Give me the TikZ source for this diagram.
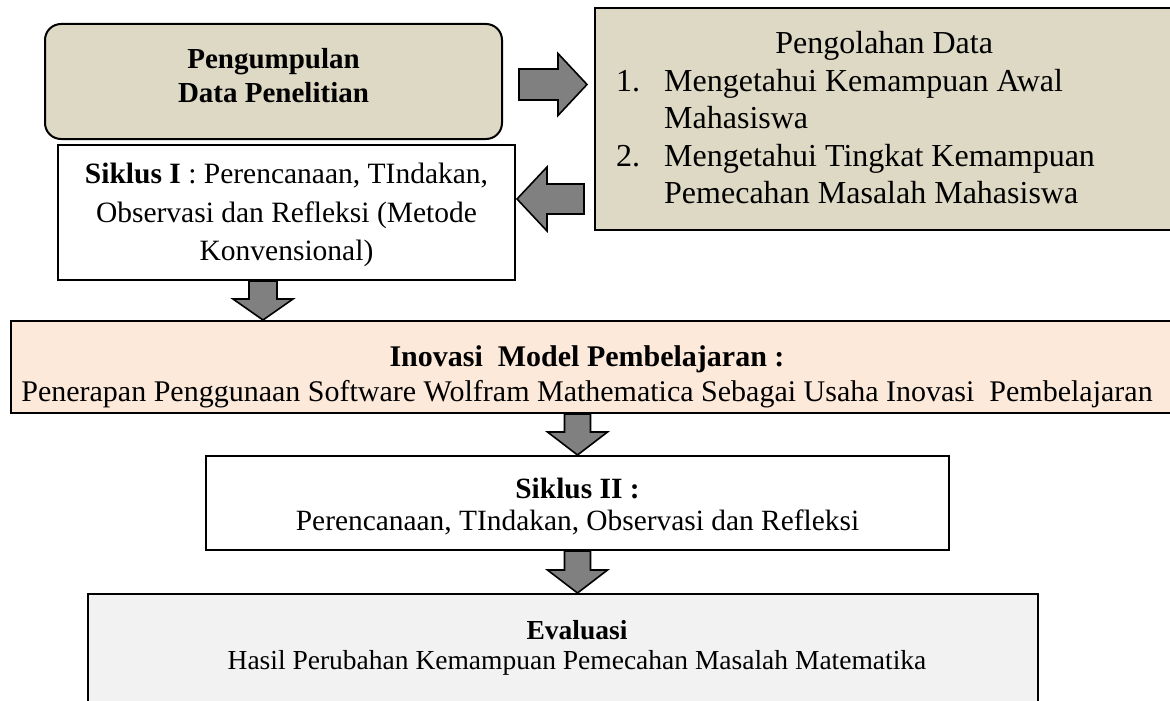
\documentclass[tikz,border=0pt]{standalone}
\usepackage{fontspec}
\setmainfont{Liberation Serif}
\usetikzlibrary{calc}
\definecolor{khaki}{HTML}{DDD9C4}
\definecolor{peach}{HTML}{FDE9D9}
\definecolor{lgray}{HTML}{F2F2F2}
\definecolor{agray}{HTML}{808080}
\tikzset{
  box/.style={draw=black, line width=2pt, anchor=north west, inner sep=0pt},
  txt/.style={inner sep=0pt, align=center},
  barrow/.style={draw=black, line width=1.6pt, fill=agray, line join=miter},
}
\newcommand\blockarrow[5]{%
  \path ($(#2)!#5!(#1)$) coordinate (bam);
  \draw[barrow] ($(#1)!#3!90:(#2)$) -- ($(bam)!#3!90:(#2)$) -- ($(bam)!#4!90:(#2)$) -- (#2)
    -- ($(bam)!#4!-90:(#2)$) -- ($(bam)!#3!-90:(#2)$) -- ($(#1)!#3!-90:(#2)$) -- cycle;}
\begin{document}
\begin{tikzpicture}[x=1pt,y=-1pt]
\useasboundingbox (0,0) rectangle (1170,701);
\clip (0,0) rectangle (1170,701);
\fill[white] (0,0) rectangle (1170,701);

% boxes
\node[box, fill=khaki, rounded corners=16pt, minimum width=457, minimum height=115] (collect) at (44,23) {};
\node[box, fill=khaki, minimum width=600, minimum height=222] (proc) at (594,7) {};
\node[box, fill=white, minimum width=457, minimum height=135] (s1) at (57,144) {};
\node[box, fill=peach, minimum width=1180, minimum height=92] (inov) at (10,320) {};
\node[box, fill=white, minimum width=743, minimum height=94] (s2) at (205,455) {};
\node[box, fill=lgray, minimum width=950, minimum height=140] (eval) at (87,593) {};

% texts
\node[txt, font=\fontsize{29}{34}\selectfont\bfseries] (collect-t) at ($(collect.center)+(0,-5.5)$)
  {Pengumpulan\\Data Penelitian};
\node[txt, anchor=west, font=\fontsize{32}{37.5}\selectfont] (proc-t) at (616,121.5)
  {\begin{tabular}{@{}p{48pt}@{}p{488pt}@{}}
   \multicolumn{2}{@{}c@{}}{Pengolahan Data}\\
   1. & Mengetahui Kemampuan Awal\\
      & Mahasiswa\\
   2. & Mengetahui Tingkat Kemampuan\\
      & Pemecahan Masalah Mahasiswa
   \end{tabular}};
\node[txt, font=\fontsize{29.5}{38.5}\selectfont] (s1-t) at ($(s1.center)+(0,2.5)$)
  {\textbf{Siklus I} : Perencanaan, TIndakan,\\ Observasi dan Refleksi (Metode\\ Konvensional)};
\node[txt, font=\fontsize{30}{35}\selectfont] (inov-t) at (587,376.5)
  {\textbf{Inovasi\ \ Model Pembelajaran :}\\
   Penerapan Penggunaan Software Wolfram Mathematica Sebagai Usaha Inovasi\ \ Pembelajaran};
\node[txt, font=\fontsize{29.4}{32}\selectfont] (s2-t) at ($(s2.center)+(0,4)$)
  {\textbf{Siklus II :}\\Perencanaan, TIndakan, Observasi dan Refleksi};
\node[txt, font=\fontsize{27.5}{30}\selectfont] (eval-t) at (577,648)
  {\textbf{Evaluasi}\\Hasil Perubahan Kemampuan Pemecahan Masalah Matematika};

% connectors
\coordinate (ras) at ($(collect.east)+(16,3)$);
\coordinate (rae) at ($(proc.west |- ras)+(-7,0)$);
\blockarrow{ras}{rae}{15.5pt}{31pt}{29pt}

\coordinate (lae) at ($(s1.east)+(1,-13.5)$);
\coordinate (las) at ($(proc.west |- lae)+(-10,0)$);
\blockarrow{las}{lae}{15pt}{32pt}{30pt}

\coordinate (d1s) at ($(s1.south)+(-23.5,0)$);
\coordinate (d1e) at (d1s |- inov.north);
\blockarrow{d1s}{d1e}{14pt}{30pt}{21pt}

\coordinate (d2s) at (inov.south -| s2.north);
\coordinate (d2e) at (d2s |- s2.north);
\blockarrow{d2s}{d2e}{13pt}{30pt}{23pt}

\coordinate (d3s) at (s2.south);
\coordinate (d3e) at (d3s |- eval.north);
\blockarrow{d3s}{d3e}{13pt}{30pt}{23pt}
\end{tikzpicture}
\end{document}
